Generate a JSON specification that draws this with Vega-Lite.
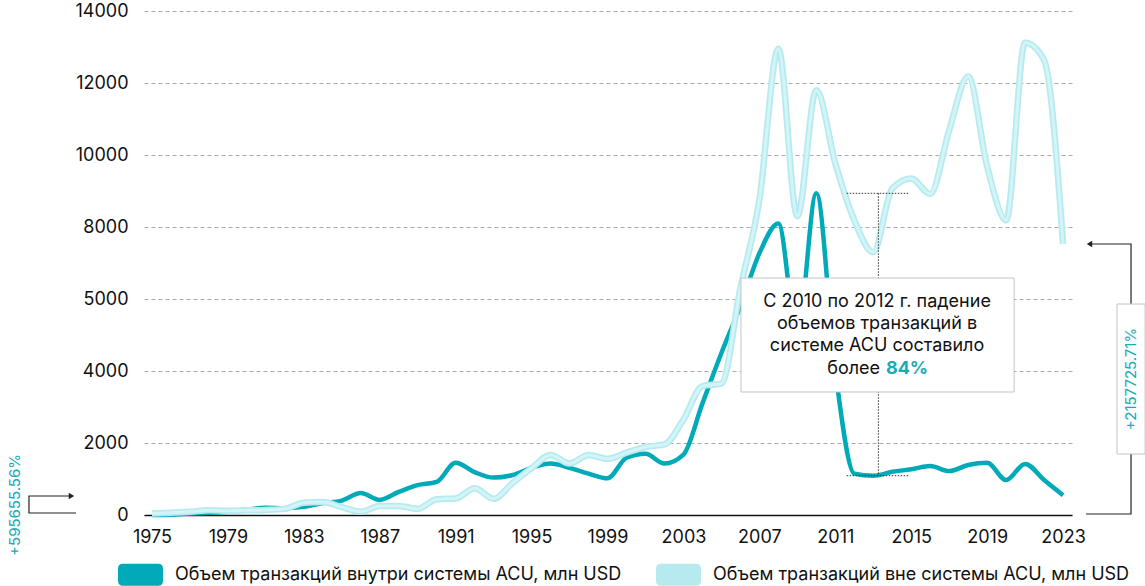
{
  "$schema": "https://vega.github.io/schema/vega-lite/v6.json",
  "width": 928,
  "height": 504,
  "autosize": "none",
  "padding": {"left": 144, "top": 11, "right": 73, "bottom": 71},
  "background": "white",
  "config": {"view": {"stroke": null}, "font": "Inter"},
  "datasets": {
    "series": [
      {"year":1975,"value":0,"s":"in"},{"year":1976,"value":10,"s":"in"},{"year":1977,"value":40,"s":"in"},{"year":1978,"value":60,"s":"in"},{"year":1979,"value":90,"s":"in"},{"year":1980,"value":150,"s":"in"},{"year":1981,"value":200,"s":"in"},{"year":1982,"value":190,"s":"in"},{"year":1983,"value":230,"s":"in"},{"year":1984,"value":330,"s":"in"},{"year":1985,"value":400,"s":"in"},{"year":1986,"value":610,"s":"in"},{"year":1987,"value":420,"s":"in"},{"year":1988,"value":640,"s":"in"},{"year":1989,"value":830,"s":"in"},{"year":1990,"value":920,"s":"in"},{"year":1991,"value":1450,"s":"in"},{"year":1992,"value":1190,"s":"in"},{"year":1993,"value":1040,"s":"in"},{"year":1994,"value":1110,"s":"in"},{"year":1995,"value":1310,"s":"in"},{"year":1996,"value":1430,"s":"in"},{"year":1997,"value":1310,"s":"in"},{"year":1998,"value":1150,"s":"in"},{"year":1999,"value":1020,"s":"in"},{"year":2000,"value":1590,"s":"in"},{"year":2001,"value":1700,"s":"in"},{"year":2002,"value":1430,"s":"in"},{"year":2003,"value":1680,"s":"in"},{"year":2004,"value":3100,"s":"in"},{"year":2005,"value":4500,"s":"in"},{"year":2006,"value":5800,"s":"in"},{"year":2007,"value":7270,"s":"in"},{"year":2008,"value":8100,"s":"in"},{"year":2009,"value":5000,"s":"in"},{"year":2010,"value":8940,"s":"in"},{"year":2011,"value":4000,"s":"in"},{"year":2012,"value":1150,"s":"in"},{"year":2013,"value":1090,"s":"in"},{"year":2014,"value":1200,"s":"in"},{"year":2015,"value":1270,"s":"in"},{"year":2016,"value":1360,"s":"in"},{"year":2017,"value":1220,"s":"in"},{"year":2018,"value":1390,"s":"in"},{"year":2019,"value":1450,"s":"in"},{"year":2020,"value":970,"s":"in"},{"year":2021,"value":1420,"s":"in"},{"year":2022,"value":970,"s":"in"},{"year":2023,"value":550,"s":"in"},
      {"year":1975,"value":40,"s":"out"},{"year":1976,"value":60,"s":"out"},{"year":1977,"value":90,"s":"out"},{"year":1978,"value":130,"s":"out"},{"year":1979,"value":120,"s":"out"},{"year":1980,"value":130,"s":"out"},{"year":1981,"value":140,"s":"out"},{"year":1982,"value":170,"s":"out"},{"year":1983,"value":340,"s":"out"},{"year":1984,"value":360,"s":"out"},{"year":1985,"value":220,"s":"out"},{"year":1986,"value":90,"s":"out"},{"year":1987,"value":250,"s":"out"},{"year":1988,"value":250,"s":"out"},{"year":1989,"value":170,"s":"out"},{"year":1990,"value":440,"s":"out"},{"year":1991,"value":460,"s":"out"},{"year":1992,"value":740,"s":"out"},{"year":1993,"value":450,"s":"out"},{"year":1994,"value":890,"s":"out"},{"year":1995,"value":1300,"s":"out"},{"year":1996,"value":1670,"s":"out"},{"year":1997,"value":1430,"s":"out"},{"year":1998,"value":1670,"s":"out"},{"year":1999,"value":1560,"s":"out"},{"year":2000,"value":1730,"s":"out"},{"year":2001,"value":1890,"s":"out"},{"year":2002,"value":1960,"s":"out"},{"year":2003,"value":2650,"s":"out"},{"year":2004,"value":3580,"s":"out"},{"year":2005,"value":3650,"s":"out"},{"year":2006,"value":6300,"s":"out"},{"year":2007,"value":8750,"s":"out"},{"year":2008,"value":12950,"s":"out"},{"year":2009,"value":8300,"s":"out"},{"year":2010,"value":11800,"s":"out"},{"year":2011,"value":9770,"s":"out"},{"year":2012,"value":8190,"s":"out"},{"year":2013,"value":7300,"s":"out"},{"year":2014,"value":9070,"s":"out"},{"year":2015,"value":9350,"s":"out"},{"year":2016,"value":8920,"s":"out"},{"year":2017,"value":10690,"s":"out"},{"year":2018,"value":12180,"s":"out"},{"year":2019,"value":9680,"s":"out"},{"year":2020,"value":8190,"s":"out"},{"year":2021,"value":13120,"s":"out"},{"year":2022,"value":12640,"s":"out"},{"year":2023,"value":7530,"s":"out"}
    ],
    "dots": [
      {"year":2011.6,"year2":2014.85,"value":8936,"value2":8936},
      {"year":2011.6,"year2":2014.85,"value":1092,"value2":1092},
      {"year":2013.27,"year2":2013.27,"value":8936,"value2":1092}
    ],
    "box": [{"year":2006.03,"year2":2020.42,"value":3417,"value2":6583}],
    "boxText": [
      {"year":2013.2,"value":5922,"t":"С 2010 по 2012 г. падение"},
      {"year":2013.2,"value":5297,"t":"объемов транзакций в"},
      {"year":2013.2,"value":4694,"t":"системе ACU составило"}
    ],
    "boxWord": [{"year":2013.36,"value":4047,"t":"более"}],
    "boxPct": [{"year":2013.67,"value":4047,"t":"84%"}],
    "elbowL": [
      {"i":0,"year":1971.0,"value":56},{"i":1,"year":1968.52,"value":56},{"i":2,"year":1968.52,"value":528},{"i":3,"year":1970.7,"value":528}
    ],
    "elbowR": [
      {"i":0,"year":2024.21,"value":28},{"i":1,"year":2026.58,"value":28},{"i":2,"year":2026.58,"value":7528},{"i":3,"year":2024.45,"value":7528}
    ],
    "headL": [{"year":1970.76,"value":528}],
    "headR": [{"year":2024.39,"value":7528}],
    "tagBox": [{"year":2025.84,"year2":2027.32,"value":1694,"value2":5861}],
    "tagR": [{"year":2026.58,"value":3778,"t":"+2157725.71%"}],
    "tagL": [{"year":1967.78,"value":278,"t":"+595655.56%"}]
  },
  "encoding": {
    "x": {
      "field": "year", "type": "quantitative",
      "scale": {"domain": [1974.58, 2023.47], "nice": false, "zero": false},
      "axis": {
        "values": [1975,1979,1983,1987,1991,1995,1999,2003,2007,2011,2015,2019,2023],
        "format": "d", "title": null, "grid": false, "ticks": false,
        "domainColor": "#111", "domainWidth": 1.5,
        "labelPadding": 13, "labelFontSize": 18, "labelColor": "#111", "labelFont": "Inter", "labelFlush": false
      }
    },
    "y": {
      "field": "value", "type": "quantitative",
      "scale": {"domain": [0, 14000], "nice": false, "zero": true},
      "axis": {
        "values": [0,2000,4000,6000,8000,10000,12000,14000],
        "labelExpr": "datum.value == 6000 ? '5000' : format(datum.value, 'd')",
        "title": null, "domain": false, "ticks": false,
        "labelPadding": 16, "labelFontSize": 18, "labelColor": "#111", "labelFont": "Inter",
        "grid": true, "gridDash": [4, 3], "gridColor": "#a9a9a9", "gridWidth": 1
      }
    }
  },
  "layer": [
    {
      "data": {"name": "series"},
      "transform": [{"filter": "datum.s == 'in'"}],
      "mark": {"type": "line", "interpolate": "monotone", "strokeWidth": 4.5},
      "encoding": {
        "color": {
          "field": "s", "type": "nominal",
          "scale": {"domain": ["in", "out"], "range": ["#00aab8", "#b6eaef"]},
          "legend": {
            "orient": "none", "legendX": -26, "legendY": 541, "direction": "horizontal",
            "title": null,
            "labelExpr": "datum.value == 'in' ? 'Объем транзакций внутри системы ACU, млн USD' : 'Объем транзакций вне системы ACU, млн USD'",
            "labelFontSize": 18, "labelColor": "#111", "labelFont": "Inter", "labelLimit": 0,
            "labelOffset": 12, "columnPadding": 34,
            "symbolType": "M-0.78,-0.49H0.78Q1,-0.49 1,-0.27V0.27Q1,0.49 0.78,0.49H-0.78Q-1,0.49 -1,0.27V-0.27Q-1,-0.49 -0.78,-0.49Z",
            "symbolSize": 2025, "symbolStrokeWidth": 0,
            "encode": {"symbols": {"update": {"fill": {"scale": "color", "field": "value"}, "stroke": {"value": "transparent"}, "opacity": {"value": 1}}}}
          }
        }
      }
    },
    {
      "data": {"name": "series"},
      "transform": [{"filter": "datum.s == 'out'"}],
      "mark": {"type": "line", "interpolate": "monotone", "strokeWidth": 6.5},
      "encoding": {"color": {"field": "s", "type": "nominal"}}
    },
    {
      "data": {"name": "series"},
      "transform": [{"filter": "datum.s == 'out'"}],
      "mark": {"type": "line", "interpolate": "monotone", "strokeWidth": 3, "color": "#d3f5f8"}
    },
    {
      "data": {"name": "dots"},
      "mark": {"type": "rule", "color": "#333", "strokeWidth": 1, "strokeDash": [1.5, 1.5]},
      "encoding": {"x2": {"field": "year2"}, "y2": {"field": "value2"}}
    },
    {
      "data": {"name": "box"},
      "mark": {"type": "rect", "fill": "white", "stroke": "#c4c4c4", "strokeWidth": 1},
      "encoding": {"x2": {"field": "year2"}, "y2": {"field": "value2"}}
    },
    {
      "data": {"name": "boxText"},
      "mark": {"type": "text", "align": "center", "baseline": "middle", "fontSize": 18, "font": "Inter", "color": "#111"},
      "encoding": {"text": {"field": "t"}}
    },
    {
      "data": {"name": "boxWord"},
      "mark": {"type": "text", "align": "right", "baseline": "middle", "fontSize": 18, "font": "Inter", "color": "#111"},
      "encoding": {"text": {"field": "t"}}
    },
    {
      "data": {"name": "boxPct"},
      "mark": {"type": "text", "align": "left", "baseline": "middle", "fontSize": 18, "font": "Inter", "fontWeight": "bold", "color": "#1aaab8"},
      "encoding": {"text": {"field": "t"}}
    },
    {
      "data": {"name": "elbowL"},
      "mark": {"type": "line", "color": "#222", "strokeWidth": 1.2, "interpolate": "linear"},
      "encoding": {"order": {"field": "i", "type": "quantitative"}}
    },
    {
      "data": {"name": "elbowR"},
      "mark": {"type": "line", "color": "#222", "strokeWidth": 1.2, "interpolate": "linear"},
      "encoding": {"order": {"field": "i", "type": "quantitative"}}
    },
    {
      "data": {"name": "headL"},
      "mark": {"type": "point", "shape": "triangle-right", "filled": true, "color": "#222", "size": 40, "opacity": 1}
    },
    {
      "data": {"name": "headR"},
      "mark": {"type": "point", "shape": "triangle-left", "filled": true, "color": "#222", "size": 40, "opacity": 1}
    },
    {
      "data": {"name": "tagBox"},
      "mark": {"type": "rect", "fill": "white", "stroke": "#c4c4c4", "strokeWidth": 1},
      "encoding": {"x2": {"field": "year2"}, "y2": {"field": "value2"}}
    },
    {
      "data": {"name": "tagR"},
      "mark": {"type": "text", "angle": 270, "align": "center", "baseline": "middle", "fontSize": 15, "font": "Inter", "color": "#1aaab8"},
      "encoding": {"text": {"field": "t"}}
    },
    {
      "data": {"name": "tagL"},
      "mark": {"type": "text", "angle": 270, "align": "center", "baseline": "middle", "fontSize": 15, "font": "Inter", "color": "#1aaab8"},
      "encoding": {"text": {"field": "t"}}
    }
  ]
}
